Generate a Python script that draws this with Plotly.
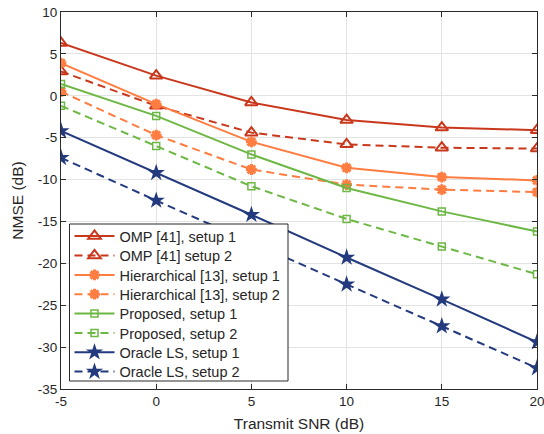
import plotly.graph_objects as go

snr = [-5, 0, 5, 10, 15, 20]
omp_s1 = [6.3, 2.4, -0.8, -2.9, -3.8, -4.1]
omp_s2 = [2.9, -1.2, -4.4, -5.8, -6.2, -6.3]
hier_s1 = [3.9, -1.0, -5.5, -8.6, -9.7, -10.1]
hier_s2 = [0.5, -4.7, -8.8, -10.6, -11.2, -11.5]
prop_s1 = [1.4, -2.4, -7.0, -11.0, -13.8, -16.2]
prop_s2 = [-1.2, -6.0, -10.8, -14.7, -18.0, -21.3]
oracle_s1 = [-4.2, -9.2, -14.2, -19.3, -24.3, -29.4]
oracle_s2 = [-7.4, -12.5, -17.5, -22.5, -27.5, -32.5]

x_ticks = [-5, 0, 5, 10, 15, 20]
x_ticktext = ["-5", "0", "5", "10", "15", "20"]
y_ticks = [-35, -30, -25, -20, -15, -10, -5, 0, 5, 10]
y_ticktext = ["-35", "-30", "-25", "-20", "-15", "-10", "-5", "0", "5", "10"]

names = ["OMP [41], setup 1", "OMP [41] setup 2",
         "Hierarchical [13], setup 1", "Hierarchical [13], setup 2",
         "Proposed, setup 1", "Proposed, setup 2",
         "Oracle LS, setup 1", "Oracle LS, setup 2"]

c_omp = "#C9381C"
c_hier = "#FF7D40"
c_prop = "#6DB845"
c_orc = "#233A7E"

DASH = "8px,5px"
series = [
    (omp_s1, c_omp, "solid", "triangle-up-open", 11, 2),
    (omp_s2, c_omp, DASH, "triangle-up-open", 11, 2),
    (hier_s1, c_hier, "solid", "asterisk-open", 9, 3),
    (hier_s2, c_hier, DASH, "asterisk-open", 9, 3),
    (prop_s1, c_prop, "solid", "square-open", 7, 1.5),
    (prop_s2, c_prop, DASH, "square-open", 7, 1.5),
    (oracle_s1, c_orc, "solid", "star", 13, 0),
    (oracle_s2, c_orc, DASH, "star", 13, 0),
]

# plot-area geometry (px) used to place the legend rows
H, T, B, L, R = 434, 12, 45, 61, 7
plot_h = H - T - B
plot_w = 544 - L - R
row_px = [236, 255.5, 275, 294.3, 313.6, 333, 352.3, 371.6]

fig = go.Figure()
legend_layouts = {}
for i, ((vals, col, dash, sym, size, lw), nm) in enumerate(zip(series, names)):
    key = "legend" if i == 0 else f"legend{i + 1}"
    fig.add_trace(go.Scatter(
        x=snr, y=vals, name=nm, mode="lines+markers",
        line=dict(color=col, width=2, dash=dash),
        marker=dict(symbol=sym, size=size, color=col,
                    line=dict(color=col, width=lw)),
        legend=key,
    ))
    legend_layouts[key] = dict(
        x=(69.5 - L) / plot_w, xanchor="left",
        y=(H - B - row_px[i]) / plot_h, yanchor="middle",
        bgcolor="rgba(0,0,0,0)", borderwidth=0,
        font=dict(size=14.5, color="#262626",
                  family="Liberation Sans, Arial"),
        itemwidth=40,
    )

axis_common = dict(
    showgrid=True, gridcolor="#E3E3E3", gridwidth=1,
    showline=True, linecolor="#2b2b2b", linewidth=1, mirror="ticks",
    ticks="inside", ticklen=5, tickcolor="#2b2b2b",
    tickfont=dict(family="Liberation Sans, Arial", size=13.5, color="#262626"),
    zeroline=False, ticklabeloverflow="allow", automargin=False,
)

fig.update_layout(
    width=544, height=H,
    margin=dict(l=L, r=R, t=T, b=B),
    paper_bgcolor="white", plot_bgcolor="white",
    font=dict(family="Liberation Sans, Arial", size=13.5, color="#262626"),
    xaxis=dict(range=[-5, 20], tickvals=x_ticks, ticktext=x_ticktext,
               title=dict(text="Transmit SNR (dB)", standoff=9,
                          font=dict(size=15.5)), **axis_common),
    yaxis=dict(range=[-35, 10], tickvals=y_ticks, ticktext=y_ticktext,
               title=dict(text="NMSE (dB)", standoff=10,
                          font=dict(size=15.5)), **axis_common),
    showlegend=True,
    shapes=[dict(type="rect", xref="paper", yref="paper",
                 x0=(69.5 - L) / plot_w, x1=(288 - L) / plot_w,
                 y0=(H - B - 381) / plot_h, y1=(H - B - 224) / plot_h,
                 fillcolor="white", line=dict(color="#2b2b2b", width=1),
                 layer="above")],
    **legend_layouts,
)

fig.write_html("out.html")
